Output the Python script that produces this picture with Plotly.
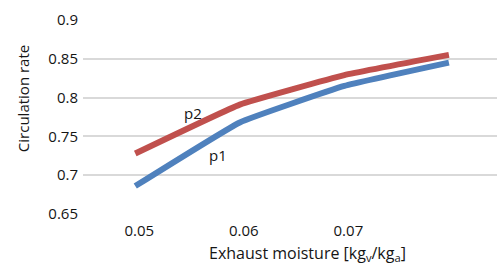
import plotly.graph_objects as go

moisture = [0.05, 0.06, 0.07, 0.08]
p1 = [0.686, 0.768, 0.815, 0.845]
p2 = [0.728, 0.791, 0.829, 0.855]
x_ticks = [0.05, 0.06, 0.07]
x_tick_text = ["0.05", "0.06", "0.07"]
y_ticks = [0.65, 0.7, 0.75, 0.8, 0.85, 0.9]
y_tick_text = ["0.65", "0.7", "0.75", "0.8", "0.85", "0.9"]

FONT = "Open Sans"
TXT = "#151515"

fig = go.Figure()
fig.add_trace(go.Scatter(x=moisture, y=p1, mode="lines", name="p1",
                         line=dict(color="#4F81BD", width=6, shape="spline", smoothing=0.3),
                         showlegend=False))
fig.add_trace(go.Scatter(x=moisture, y=p2, mode="lines", name="p2",
                         line=dict(color="#C0504D", width=6, shape="spline", smoothing=0.3),
                         showlegend=False))

fig.add_annotation(x=0.05554, y=0.7805, xref="x", yref="y", text="p2", showarrow=False,
                   font=dict(family=FONT, size=15, color=TXT))
fig.add_annotation(x=0.05793, y=0.7265, xref="x", yref="y", text="p1", showarrow=False,
                   font=dict(family=FONT, size=15, color=TXT))

fig.add_annotation(x=22, y=99, xref="paper", yref="paper", text="Circulation rate",
                   showarrow=False, textangle=-90,
                   font=dict(family=FONT, size=15, color=TXT))
fig.add_annotation(x=307, y=254, xref="paper", yref="paper",
                   text="Exhaust moisture [kg<sub>v</sub>/kg<sub>a</sub>]",
                   showarrow=False, font=dict(family=FONT, size=16, color=TXT))

# convert pixel positions of titles to paper coords
W, H = 497, 267
ML, MR, MT, MB = 82.7, 0, 20, 52.5
pw, ph = W - ML - MR, H - MT - MB
for ann in fig.layout.annotations:
    if ann.xref == "paper":
        ann.x = (ann.x - ML) / pw
        ann.y = 1 - (ann.y - MT) / ph
        ann.xanchor = "center"
        ann.yanchor = "middle"

fig.update_layout(
    width=W, height=H,
    margin=dict(l=ML, r=MR, t=MT, b=MB, pad=0),
    paper_bgcolor="white", plot_bgcolor="white",
    font=dict(family=FONT, size=15, color=TXT),
    xaxis=dict(range=[0.045, 0.0846], tickvals=x_ticks, ticktext=x_tick_text,
               showgrid=False, zeroline=False, showline=False, ticks="",
               tickfont=dict(family=FONT, size=15, color=TXT), ticklabelshift=4,
               ticklabelstandoff=6),
    yaxis=dict(range=[0.65, 0.9], tickvals=y_ticks, ticktext=y_tick_text,
               showgrid=True, gridcolor="#D9D9D9", gridwidth=1.5,
               zeroline=False, showline=False, ticks="",
               tickfont=dict(family=FONT, size=15, color=TXT), ticklabelstandoff=4),
)

fig.write_html("out.html", config={"displayModeBar": False},
               post_script="document.body.style.margin='0';document.body.style.padding='0';document.body.style.overflow='hidden';")
